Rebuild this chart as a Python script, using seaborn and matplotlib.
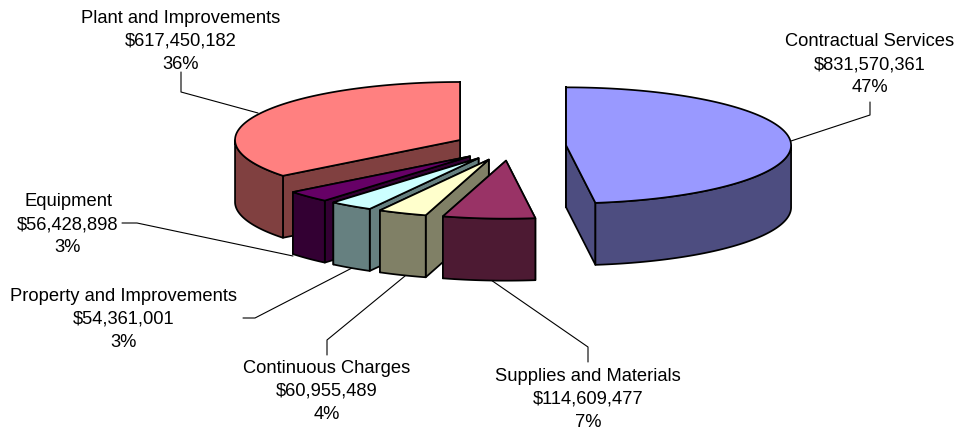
import numpy as np
import pandas as pd
import seaborn as sns
import matplotlib.pyplot as plt

names = ["Contractual Services", "Supplies and Materials", "Continuous Charges",
         "Property and Improvements", "Equipment", "Plant and Improvements"]
amounts = [831570361, 114609477, 60955489, 54361001, 56428898, 617450182]
percents = [47, 7, 4, 3, 3, 36]
top_colors = ["#9999FF", "#993366", "#FFFFCC", "#CCFFFF", "#660066", "#FF8080"]
side_colors = ["#4D4D80", "#4D1A33", "#808066", "#668080", "#330033", "#804040"]

# label centre (x, first line y) and the leader line, in pixels
label_pos = [(870, 40), (588, 375), (327, 367), (124, 295), (68, 200), (181, 17)]
leaders = [
    [(870, 102), (870, 115), (791, 141)],
    [(588, 362), (588, 347), (491, 280)],
    [(327, 355), (327, 340), (405, 276)],
    [(243, 318), (255, 318), (352, 268)],
    [(122, 223), (137, 223), (293, 256)],
    [(181, 72), (181, 92), (258, 113)],
]

# pie geometry in pixels
cx, cy = 510.3, 146.3
rx, ry = 225, 58
explode = 55.9
depth = 62

df = pd.DataFrame({"name": names, "amount": amounts, "percent": percents})
df["sweep"] = df["amount"] / df["amount"].sum() * 2 * np.pi
df["end"] = df["sweep"].cumsum()
df["start"] = df["end"] - df["sweep"]

sns.set_theme(style="white")
plt.rcParams["font.family"] = ["Liberation Sans", "DejaVu Sans"]

fig, ax = plt.subplots(figsize=(9.57, 4.32), dpi=100)
fig.subplots_adjust(0, 0, 1, 1)
ax.set_xlim(0, 957)
ax.set_ylim(432, 0)
ax.axis("off")


def rim(x0, y0, a):
    return x0 + rx * np.sin(a), y0 - ry * np.cos(a)


def face(xs, ys, color, z):
    ax.fill(xs, ys, facecolor=color, edgecolor="black", linewidth=1.25,
            joinstyle="round", zorder=z)


# back slices first, going round to the front
z = 3
for i in [5, 4, 3, 2, 1, 0]:
    row = df.iloc[i]
    mid = (row["start"] + row["end"]) / 2
    x0 = cx + explode * np.sin(mid)
    y0 = cy - explode * ry / rx * np.cos(mid)

    # the two cut walls, the one further back first
    for a in sorted([row["start"], row["end"]], key=lambda t: rim(x0, y0, t)[1]):
        xr, yr = rim(x0, y0, a)
        face([x0, xr, xr, x0], [y0, yr, yr + depth, y0 + depth], side_colors[i], z)
        z += 1

    # outer wall, only the part turned to the viewer
    a0 = max(row["start"], np.pi / 2)
    a1 = min(row["end"], 3 * np.pi / 2)
    if a1 > a0:
        t = np.linspace(a0, a1, 80)
        xr, yr = rim(x0, y0, t)
        face(np.r_[xr, xr[::-1]], np.r_[yr, yr[::-1] + depth], side_colors[i], z)
        z += 1

    t = np.linspace(row["start"], row["end"], 200)
    xr, yr = rim(x0, y0, t)
    face(np.r_[x0, xr], np.r_[y0, yr], top_colors[i], z)
    z += 1

for i, row in df.iterrows():
    x, y = label_pos[i]
    lines = [row["name"], f"${row['amount']:,}", f"{row['percent']}%"]
    for k, line in enumerate(lines):
        ax.text(x, y + 6 + k * 23, line, ha="center", va="baseline", fontsize=13.2,
                color="black", zorder=100)
    px, py = zip(*leaders[i])
    ax.plot(px, py, color="black", linewidth=0.8, zorder=1)

fig.savefig("out.png", dpi=100, facecolor="white")
